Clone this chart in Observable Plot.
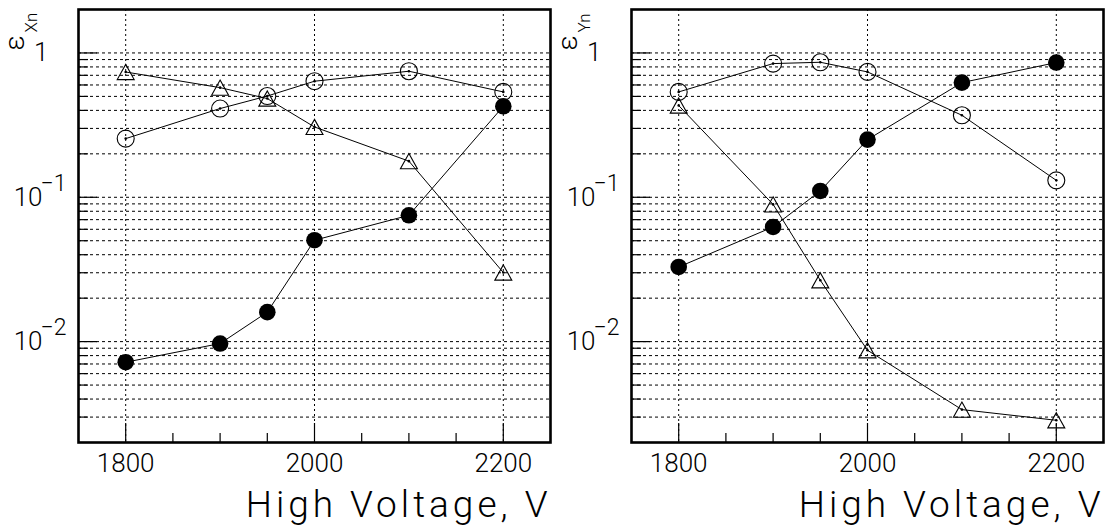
<!DOCTYPE html>
<html><head><meta charset="utf-8">
<script src="https://cdn.jsdelivr.net/npm/d3@7"></script>
<script src="https://cdn.jsdelivr.net/npm/@observablehq/plot@0.6"></script>
<style>
html,body{margin:0;padding:0;background:#fff;}
#wrap{display:flex;width:1105px;height:526px;}
svg{overflow:visible;}
</style></head><body><div id="wrap"></div>
<script>
// ---- data ----
const voltages = [1800, 1900, 1950, 2000, 2100, 2200];
// left panel: eps_Xn
const xnOpenCircle = [0.255, 0.412, 0.503, 0.637, 0.747, 0.537];
const xnTriangle   = [0.738, 0.575, 0.483, 0.307, 0.178, 0.0301];
const xnFilled     = [0.0072, 0.0097, 0.0160, 0.0504, 0.0750, 0.427];
// right panel: eps_Yn
const ynOpenCircle = [0.537, 0.844, 0.862, 0.739, 0.370, 0.131];
const ynTriangle   = [0.432, 0.0893, 0.0266, 0.00871, 0.00338, 0.00285];
const ynFilled     = [0.0329, 0.0623, 0.1106, 0.251, 0.623, 0.858];
// ticks
const xMajorTicks = [1800, 2000, 2200];
const xMinorTicks = [1850, 1900, 1950, 2050, 2100, 2150];
const xTickLabels = ["1800", "2000", "2200"];
const yMajorTicks = [0.01, 0.1, 1];
const yMinorTicks = [0.003,0.004,0.005,0.006,0.007,0.008,0.009,
                     0.02,0.03,0.04,0.05,0.06,0.07,0.08,0.09,
                     0.2,0.3,0.4,0.5,0.6,0.7,0.8,0.9];
const yGridValues = [...yMinorTicks, ...yMajorTicks];
const yLabelOne = [1];
const yLabelPow = [0.1, 0.01];
const yLabelExp = ["\u22121", "\u22122"];
const xTitle = "High Voltage, V";

// centered triangle marker
const triangleSymbol = {
  draw(ctx, size) {
    const r = Math.sqrt(size / Math.PI);
    const w = r * 1.06, h = r * 0.95;
    ctx.moveTo(0, -h); ctx.lineTo(w, h); ctx.lineTo(-w, h); ctx.closePath();
  }
};

function panel(open, tri, filled, sub, ml, w) {
  const rows = (vals) => voltages.map((v, i) => ({v, e: vals[i]}));
  const O = rows(open), T = rows(tri), F = rows(filled);
  const H = 526, mt = 9, mb = 84, mr = 2;
  const fh = H - mt - mb, fw = w - ml - mr;
  const font = "Roboto, 'Liberation Sans', sans-serif";
  const chart = Plot.plot({
    width: w, height: H, marginLeft: ml, marginRight: mr, marginTop: mt, marginBottom: mb,
    x: {domain: [1750, 2250], axis: null},
    y: {type: "log", domain: [0.002, 2], axis: null},
    style: {fontFamily: font, fontWeight: 300, background: "white", overflow: "visible", color: "black"},
    marks: [
      // grid
      Plot.ruleY(yGridValues, {y: d => d, stroke: "black", strokeWidth: 1, strokeDasharray: "3,3"}),
      Plot.ruleX(xMajorTicks, {x: d => d, stroke: "black", strokeWidth: 1, strokeDasharray: "2,3"}),
      // ticks (inside)
      Plot.ruleX(xMajorTicks, {x: d => d, stroke: "black", strokeWidth: 1.2, insetTop: fh - 19}),
      Plot.ruleX(xMinorTicks, {x: d => d, stroke: "black", strokeWidth: 1.2, insetTop: fh - 9}),
      Plot.ruleY(yMajorTicks, {y: d => d, stroke: "black", strokeWidth: 1.2, insetRight: fw - 19}),
      Plot.ruleY(yMinorTicks, {y: d => d, stroke: "black", strokeWidth: 1.2, insetRight: fw - 10}),
      // series lines
      Plot.line(O, {x: "v", y: "e", stroke: "black", strokeWidth: 1}),
      Plot.line(T, {x: "v", y: "e", stroke: "black", strokeWidth: 1}),
      Plot.line(F, {x: "v", y: "e", stroke: "black", strokeWidth: 1}),
      // markers
      Plot.dot(O, {x: "v", y: "e", r: 8.5, stroke: "black", fill: "none", strokeWidth: 1.1}),
      Plot.dot(T, {x: "v", y: "e", r: 8, symbol: triangleSymbol, stroke: "black", fill: "none", strokeWidth: 1.1}),
      Plot.dot(F, {x: "v", y: "e", r: 8.3, fill: "black", stroke: "none"}),
      Plot.dot([...O, ...T], {x: "v", y: "e", r: 1.3, fill: "black", stroke: "none"}),
      // frame
      Plot.frame({stroke: "black", strokeWidth: 2.6}),
      // x tick labels
      Plot.text(xMajorTicks, {x: d => d, text: (d, i) => xTickLabels[i], frameAnchor: "bottom", dy: 21, lineAnchor: "middle", fontSize: 26, fill: "black"}),
      // y tick labels
      Plot.text(yLabelOne, {y: d => d, text: () => "1", frameAnchor: "left", textAnchor: "end", dx: -30, lineAnchor: "middle", fontSize: 26, fill: "black"}),
      Plot.text(yLabelPow, {y: d => d, text: () => "10", frameAnchor: "left", textAnchor: "end", dx: -36, lineAnchor: "middle", fontSize: 26, fill: "black"}),
      Plot.text(yLabelPow, {y: d => d, text: (d, i) => yLabelExp[i], frameAnchor: "left", textAnchor: "start", dx: -38, dy: -14, lineAnchor: "middle", fontSize: 23, fill: "black"}),
      // y title (rotated)
      Plot.text(["\u03b5"], {frameAnchor: "top-left", dx: -63, dy: 41, rotate: -90, textAnchor: "start", lineAnchor: "middle", fontSize: 28, fill: "black"}),
      Plot.text([sub], {frameAnchor: "top-left", dx: -47, dy: 23, rotate: -90, textAnchor: "start", lineAnchor: "middle", fontSize: 17, fill: "black"}),
      // x title
      Plot.text([xTitle], {frameAnchor: "bottom-right", dx: 1, dy: 74, textAnchor: "end", lineAnchor: "bottom", fontSize: 37, fill: "black"})
    ]
  });
  d3.select(chart).selectAll("text")
    .filter(function() { return this.textContent === xTitle; })
    .attr("letter-spacing", "4px");
  return chart;
}

const wrap = document.getElementById("wrap");
wrap.appendChild(panel(xnOpenCircle, xnTriangle, xnFilled, "Xn", 78, 552));
wrap.appendChild(panel(ynOpenCircle, ynTriangle, ynFilled, "Yn", 79, 553));
</script></body></html>
